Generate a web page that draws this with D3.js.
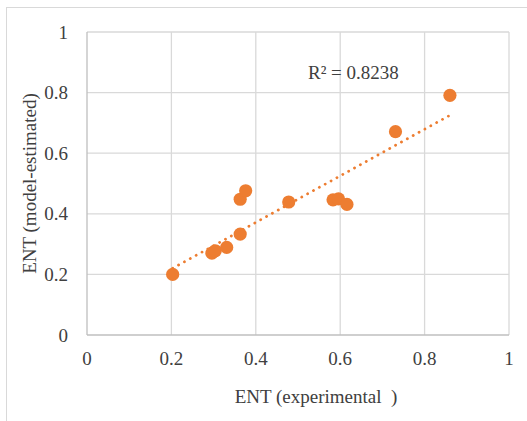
<!DOCTYPE html>
<html>
<head>
<meta charset="utf-8">
<script src="https://cdn.jsdelivr.net/npm/d3@7"></script>
<style>
	body { margin: 0; background: #fff; }
	svg text { font-family: 'Liberation Serif', 'Times New Roman', serif; fill: #404040; }
</style>
</head>
<body>
<script>
// measured vs model-estimated ENT
const experimental = [0.203, 0.296, 0.304, 0.331, 0.363, 0.363, 0.376, 0.478, 0.583, 0.596, 0.616, 0.731, 0.86];
const estimated = [0.2, 0.27, 0.278, 0.289, 0.333, 0.448, 0.476, 0.439, 0.446, 0.449, 0.431, 0.671, 0.791];
const xTicks = [0, 0.2, 0.4, 0.6, 0.8, 1];
const yTicks = [0, 0.2, 0.4, 0.6, 0.8, 1];
const rSquared = '0.8238';

const width = 527;
const height = 421;
const margin = {top: 32, right: 18, bottom: 86, left: 87};

const svg = d3.select('body').append('svg').attr('width', width).attr('height', height);

// outer chart border
svg.append('rect')
	.attr('x', 6.5).attr('y', 7.5)
	.attr('width', width + 10).attr('height', height + 10)
	.attr('fill', 'none').attr('stroke', '#d9d9d9').attr('stroke-width', 1);

const x = d3.scaleLinear().domain([0, 1]).range([margin.left, width - margin.right]);
const y = d3.scaleLinear().domain([0, 1]).range([height - margin.bottom, margin.top]);

// gridlines
svg.append('g')
	.selectAll('line')
	.data(xTicks.slice(1))
	.enter()
	.append('line')
	.attr('x1', (d) => x(d)).attr('x2', (d) => x(d))
	.attr('y1', y(0)).attr('y2', y(1))
	.attr('stroke', '#d9d9d9').attr('stroke-width', 1.3);

svg.append('g')
	.selectAll('line')
	.data(yTicks.slice(1))
	.enter()
	.append('line')
	.attr('x1', x(0)).attr('x2', x(1))
	.attr('y1', (d) => y(d)).attr('y2', (d) => y(d))
	.attr('stroke', '#d9d9d9').attr('stroke-width', 1.3);

// axis lines
svg.append('line')
	.attr('x1', x(0)).attr('x2', x(1)).attr('y1', y(0)).attr('y2', y(0))
	.attr('stroke', '#bfbfbf').attr('stroke-width', 1.3);
svg.append('line')
	.attr('x1', x(0)).attr('x2', x(0)).attr('y1', y(0)).attr('y2', y(1))
	.attr('stroke', '#bfbfbf').attr('stroke-width', 1.3);

// tick labels
const fmt = (d) => (d === 0 || d === 1 ? String(d) : d.toFixed(1));

svg.append('g')
	.selectAll('text')
	.data(xTicks)
	.enter()
	.append('text')
	.attr('x', (d) => x(d))
	.attr('y', 365)
	.attr('text-anchor', 'middle')
	.style('font-size', '19px')
	.text(fmt);

svg.append('g')
	.selectAll('text')
	.data(yTicks)
	.enter()
	.append('text')
	.attr('x', 68)
	.attr('y', (d) => y(d) + 6.5)
	.attr('text-anchor', 'end')
	.style('font-size', '19px')
	.text(fmt);

// axis titles
svg.append('text')
	.attr('x', 316)
	.attr('y', 403)
	.attr('text-anchor', 'middle')
	.style('font-size', '19px')
	.style('white-space', 'pre')
	.text('ENT (experimental  )');

svg.append('text')
	.attr('transform', `translate(36, ${(y(0) + y(1)) / 2}) rotate(-90)`)
	.attr('text-anchor', 'middle')
	.style('font-size', '19px')
	.text('ENT (model-estimated)');

// linear trendline (least squares)
const points = experimental.map((d, i) => ({x: d, y: estimated[i]}));
const mx = d3.mean(experimental);
const my = d3.mean(estimated);
const slope = d3.sum(points, (p) => (p.x - mx) * (p.y - my)) / d3.sum(points, (p) => (p.x - mx) ** 2);
const intercept = my - slope * mx;
const xMin = d3.min(experimental);
const xMax = d3.max(experimental);

svg.append('line')
	.attr('x1', x(xMin)).attr('y1', y(slope * xMin + intercept))
	.attr('x2', x(xMax)).attr('y2', y(slope * xMax + intercept))
	.attr('stroke', '#ed7d31')
	.attr('stroke-width', 2.8)
	.attr('stroke-linecap', 'round')
	.attr('stroke-dasharray', '0.1 6.6');

// points
svg.append('g')
	.selectAll('circle')
	.data(points)
	.enter()
	.append('circle')
	.attr('cx', (d) => x(d.x))
	.attr('cy', (d) => y(d.y))
	.attr('r', 6.6)
	.attr('fill', '#ed7d31');

// R² label
svg.append('text')
	.attr('x', 308)
	.attr('y', 79)
	.style('font-size', '19px')
	.text('R² = ' + rSquared);
</script>
</body>
</html>
